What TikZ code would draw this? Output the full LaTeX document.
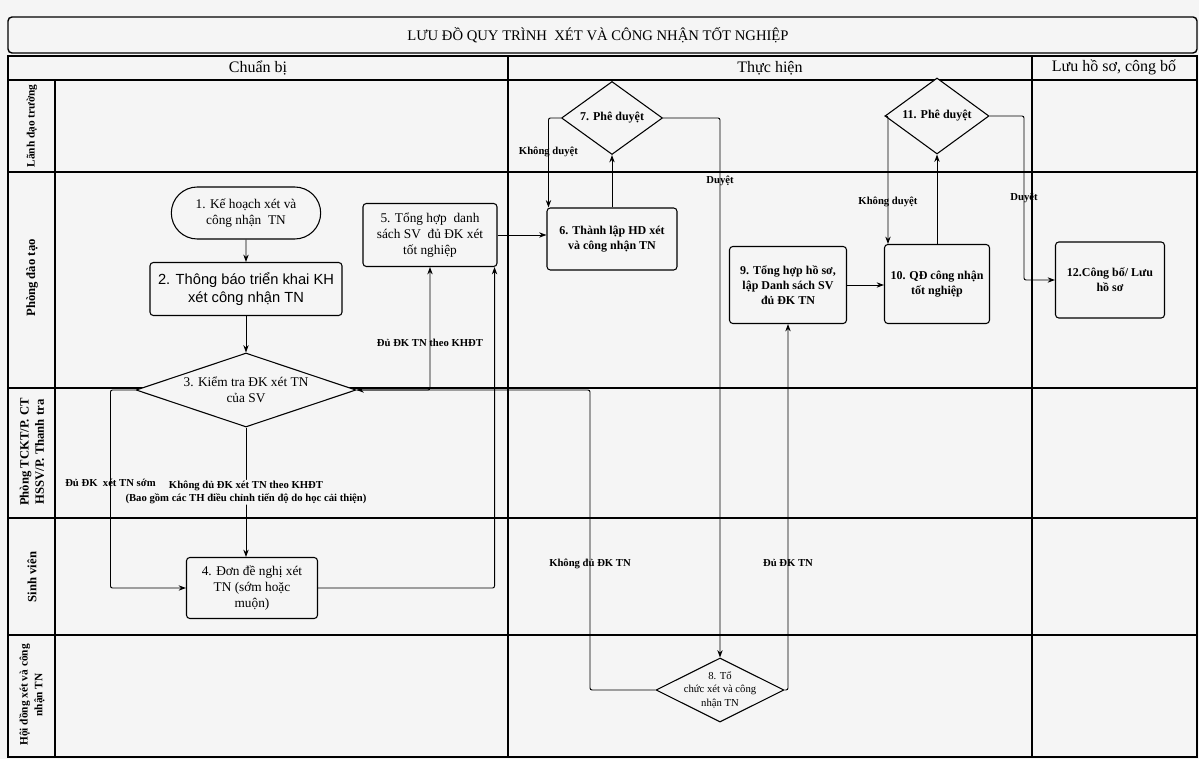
\documentclass[tikz,border=0pt]{standalone}
\usepackage{fontspec}
\setmainfont{Liberation Serif}
\newfontfamily\arialf{Liberation Sans}
\usetikzlibrary{arrows.meta,shapes.geometric,shapes.misc,calc}
\definecolor{paper}{gray}{0.96}
\begin{document}
\begin{tikzpicture}[x=0.75pt,y=-0.75pt,
  tbl/.style={line width=1.05pt},
  box/.style={draw, line width=0.8pt, rounded corners=2.5pt, fill=paper, align=center, inner sep=1pt},
  term/.style={draw, line width=0.8pt, rounded rectangle, fill=paper, align=center, inner sep=1pt},
  dia/.style={draw, line width=0.8pt, diamond, fill=paper, inner sep=0pt},
  reg/.style={font=\fontsize{10}{12}\selectfont},
  bld/.style={font=\bfseries\fontsize{9}{11.2}\selectfont},
  lbl/.style={font=\bfseries\fontsize{8}{10}\selectfont, align=center, inner sep=0.5pt},
  lanelbl/.style={font=\bfseries\fontsize{9.5}{11.5}\selectfont, rotate=90, align=center},
  hdr/.style={font=\fontsize{12}{14}\selectfont},
  arr/.style={line width=0.7pt, rounded corners=1.5pt, -{Stealth[length=5.5pt,width=4pt]}}
]
\useasboundingbox (0,0) rectangle (1199,759);
\fill[paper] (0,0) rectangle (1199,759);

% title
\draw[tbl, rounded corners=3pt] (8,17) rectangle (1197,53);
\node[font=\fontsize{11}{13}\selectfont] (title) at (598,35) {LƯU ĐỒ QUY TRÌNH\ \ XÉT VÀ CÔNG NHẬN TỐT NGHIỆP};

% table
\draw[tbl] (8,56) rectangle (1197,757);
\draw[tbl] (8,80) -- (1197,80);
\foreach \yy in {172,388,518,635} \draw[tbl] (8,\yy) -- (1197,\yy);
\draw[tbl] (55,80) -- (55,757);
\draw[tbl] (508,56) -- (508,757);
\draw[tbl] (1032,56) -- (1032,757);

% headers
\node[hdr] (h1) at (258,68) {Chuẩn bị};
\node[hdr] (h2) at (770,68) {Thực hiện};
\node[hdr] (h3) at (1114,67) {Lưu hồ sơ, công bố};

% lanes
\node[lanelbl, font=\bfseries\fontsize{8.5}{11}\selectfont] (l1) at (32,126) {Lãnh đạo trường};
\node[lanelbl] (l2) at (32,278) {Phòng đào tạo};
\node[lanelbl] (l3) at (32,452) {Phòng TCKT/P. CT\\HSSV/P. Thanh tra};
\node[lanelbl] (l4) at (32,577) {Sinh viên};
\node[lanelbl, font=\bfseries\fontsize{8.5}{11}\selectfont] (l5) at (32,695) {Hội đồng xét và công\\nhận TN};

% nodes
\node[term, reg, minimum width=114pt, minimum height=39pt] (n1) at (246,213) {1. Kế hoạch xét và\\công nhận\ \ TN};
\node[box, font=\arialf\fontsize{11}{13.5}\selectfont, minimum width=144pt, minimum height=39.75pt] (n2) at (246,289) {2. Thông báo triển khai KH\\xét công nhận TN};
\node[dia, minimum width=165pt, minimum height=55.5pt, label={[reg, align=center]center:{3. Kiểm tra ĐK xét TN\\của SV}}] (n3) at (246,390) {};
\node[box, reg, minimum width=98.25pt, minimum height=45.75pt] (n4) at (252,588) {4. Đơn đề nghị xét\\TN (sớm hoặc\\muộn)};
\node[box, reg, minimum width=100.5pt, minimum height=47.25pt] (n5) at (430,235) {5. Tổng hợp\ \ danh\\sách SV\ \ đủ ĐK xét\\tốt nghiệp};
\node[box, bld, minimum width=97.5pt, minimum height=46.5pt] (n6) at (612,239) {6. Thành lập HD xét\\và công nhận TN};
\node[dia, minimum width=75.75pt, minimum height=54.75pt, label={[bld]center:{7. Phê duyệt}}] (n7) at (612,118) {};
\node[dia, minimum width=96pt, minimum height=48pt, label={[font=\fontsize{8}{10}\selectfont, align=center]center:{8. Tổ\\chức xét và công\\nhận TN}}] (n8) at (720,690) {};
\node[box, bld, minimum width=87.75pt, minimum height=57.75pt] (n9) at (788,285) {9. Tổng hợp hồ sơ,\\lập Danh sách SV\\đủ ĐK TN};
\node[box, bld, minimum width=78.75pt, minimum height=59.25pt] (n10) at (937,284) {10. QĐ công nhận\\tốt nghiệp};
\node[dia, minimum width=78pt, minimum height=57pt, label={[bld]center:{11. Phê duyệt}}] (n11) at (937,116) {};
\node[box, bld, minimum width=81.75pt, minimum height=57pt] (n12) at (1110,280) {12.Công bố/ Lưu\\hồ sơ};

\coordinate (k1) at (590,390);
\coordinate (k2) at (1024,280);

% connectors
\draw[arr] (n1) -- (n2);
\draw[arr] (n2) -- (n3);
\draw[arr] (n3.south) -- node[lbl, fill=paper, pos=0.5] {Không đủ ĐK xét TN theo KHĐT\\(Bao gồm các TH điều chỉnh tiến độ do học cải thiện)} (n3.south |- n4.north);
\draw[arr] (n3.west) -- ++(-25,0) |- node[lbl, pos=0.235] {Đủ ĐK\ \ xét TN sớm} (n4.west);
\draw[arr] (n3.east) -| node[lbl, pos=0.69] {Đủ ĐK TN theo KHĐT} (n5.south);
\draw[arr] (n4.east) -| ($(n5.south east)+(-3,0)$);
\draw[arr] (n5.east) -- (n5.east -| n6.west);
\draw[arr] (n6.north) -- (n7.south);
\draw[arr] (n7.west) -| node[lbl, pos=0.69] {Không duyệt} ($(n6.north west)+(2,0)$);
\draw[arr] (n7.east) -| node[lbl, pos=0.558] {Duyệt} (n8.north);
\draw[arr] (n8.west) -| node[lbl, pos=0.71] {Không đủ ĐK TN} (k1) -- (n3.east);
\draw[arr] (n8.east) -| node[lbl, pos=0.673] {Đủ ĐK TN} (n9.south);
\draw[arr] (n9.east) -- (n9.east -| n10.west);
\draw[arr] (n10.north) -- (n11.south);
\draw[arr] (n11.west) -| node[lbl, pos=0.835] {Không duyệt} ($(n10.north west)+(4,0)$);
\draw[arr] (n11.east) -| node[lbl, pos=0.75] {Duyệt} (k2) -- (n12.west);
\end{tikzpicture}
\end{document}
